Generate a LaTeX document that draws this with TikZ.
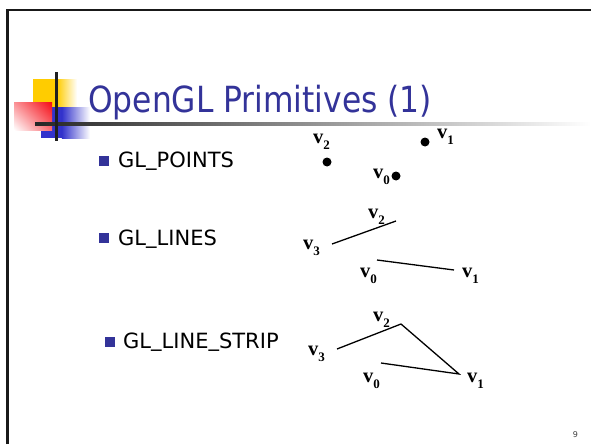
\documentclass[tikz,border=0pt]{standalone}
\usepackage{fontspec}
\usepackage{graphicx}
\usetikzlibrary{shadings}
\setmainfont{DejaVu Sans}
\newfontfamily\labfont{Liberation Serif}
\definecolor{titleblue}{RGB}{51,51,153}
\definecolor{bulletblue}{RGB}{51,51,153}
\definecolor{sqyellow}{RGB}{255,204,0}
\definecolor{sqred}{RGB}{245,10,20}
\definecolor{sqblue}{RGB}{51,51,204}
% vertex label: bold v with a bold subscript digit
\newcommand\vlab[1]{{\labfont\bfseries v\raisebox{-6.5pt}{\fontsize{13}{14}\selectfont #1}}}
% underscore sitting on the baseline
\newcommand\us{\raisebox{2pt}{\_}}

\begin{document}
\begin{tikzpicture}[x=1pt,y=-1pt,
  vtx/.style={circle,fill=black,inner sep=0pt,minimum size=9pt},
  lbl/.style={anchor=base west,inner sep=0pt,font=\fontsize{20.5}{22}\selectfont},
  seg/.style={line width=1.3pt,black},
  item/.style={anchor=base west,inner sep=0pt,font=\fontsize{21}{25}\selectfont},
  bulletbox/.style={fill=bulletblue,draw=none,inner sep=0pt,minimum size=10pt}]
\useasboundingbox (0,0) rectangle (591,444);
\fill[white] (0,0) rectangle (591,444);

% slide frame
\draw[line width=2.6pt,black!90] (7.7,444) -- (7.7,10) -- (591,10);

% title logo: three fading squares and a cross of lines
\fill[sqyellow] (33,79) rectangle (57,107);
\shade[left color=sqyellow,right color=white] (56.8,79) rectangle (77,107);
\fill[sqblue] (41,107) rectangle (62,138);
\shade[left color=sqblue,right color=white] (61.8,107) rectangle (90,138);
\shade[upper right=sqred,upper left=sqred!45!white,lower right=sqred!60!white,lower left=white]
  (14,102) rectangle (52,130);
\shade[left color=black!85,middle color=black!40,right color=white] (35,122.7) rectangle (591,125.3);
\draw[line width=2.6pt,black!88] (56.5,72) -- (56.5,141);

% title
\node[anchor=base west,inner sep=0pt,text=titleblue,font=\fontsize{36}{40}\selectfont]
  (title) at (88,112) {\scalebox{0.87}[1]{OpenGL Primitives (1)}};

% bullet items
\node[bulletbox] (b1) at (104,160.5) {};
\node[item] (t1) at (118,167) {GL\us POINTS};
\node[bulletbox] (b2) at (104,238) {};
\node[item] (t2) at (118,245) {GL\us LINES};
\node[bulletbox] (b3) at (109.5,342) {};
\node[item] (t3) at (123,348) {GL\us LINE\us STRIP};

% GL_POINTS
\node[vtx] (p2) at (327,162) {};
\node[vtx] (p1) at (425,142) {};
\node[vtx] (p0) at (396,176) {};
\node[lbl] (p2l) at (313,143) {\vlab{2}};
\node[lbl] (p1l) at (437,138) {\vlab{1}};
\node[lbl] (p0l) at (373,178) {\vlab{0}};

% GL_LINES
\coordinate (l3) at (332,244);
\coordinate (l2) at (396,221);
\coordinate (l0) at (377,260);
\coordinate (l1) at (454,270);
\draw[seg] (l3) -- (l2);
\draw[seg] (l0) -- (l1);
\node[lbl] (l2l) at (368,218) {\vlab{2}};
\node[lbl] (l3l) at (303,249) {\vlab{3}};
\node[lbl] (l0l) at (360,277) {\vlab{0}};
\node[lbl] (l1l) at (462,277) {\vlab{1}};

% GL_LINE_STRIP
\coordinate (s3) at (337,349);
\coordinate (s2) at (401,324);
\coordinate (s1) at (459,374);
\coordinate (s0) at (381,363);
\draw[seg,line join=miter] (s3) -- (s2) -- (s1) -- (s0);
\node[lbl] (s2l) at (373,321) {\vlab{2}};
\node[lbl] (s3l) at (308,355) {\vlab{3}};
\node[lbl] (s0l) at (363,382) {\vlab{0}};
\node[lbl] (s1l) at (467,382) {\vlab{1}};

% page number
\node[anchor=base,inner sep=0pt,font=\fontsize{8}{9}\selectfont,text=black!75] (pg) at (575.5,437) {9};
\end{tikzpicture}
\end{document}
